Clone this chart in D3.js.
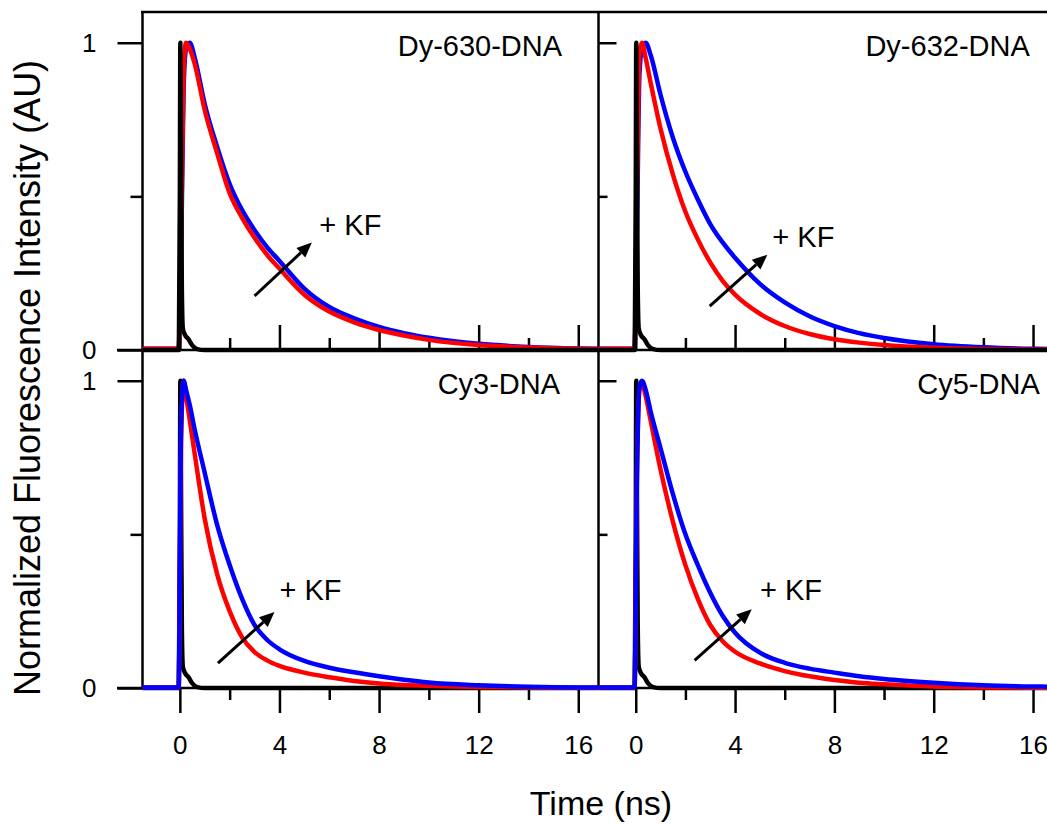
<!DOCTYPE html>
<html>
<head>
<meta charset="utf-8">
<script src="https://cdn.jsdelivr.net/npm/d3@7"></script>
<style>
  body { margin: 0; background: #fff; }
  svg text { font-family: "Liberation Sans", Arial, sans-serif; fill: #000; }
</style>
</head>
<body>
<div id="chart"></div>
<script>
// values (time in ns, intensity normalised)
var time = [-1.5, -0.05, 0.05, 0.15, 0.25, 0.4, 0.6, 1, 1.5, 2, 2.5, 3, 3.5, 4, 5, 6, 7, 8, 9, 10, 12, 14, 16, 16.8];

var dy630Free = [0.004, 0.004, 0.35, 0.9, 1.0, 0.98, 0.93, 0.78, 0.64, 0.51, 0.43, 0.365, 0.31, 0.265, 0.18, 0.125, 0.09, 0.065, 0.047, 0.033, 0.016, 0.008, 0.004, 0.003];
var dy630KF   = [0.004, 0.004, 0.3, 0.85, 0.98, 1.0, 0.95, 0.8, 0.66, 0.54, 0.455, 0.39, 0.335, 0.29, 0.2, 0.14, 0.103, 0.075, 0.055, 0.04, 0.02, 0.01, 0.005, 0.004];
var dy632Free = [0.004, 0.004, 0.5, 0.97, 1.0, 0.95, 0.87, 0.72, 0.57, 0.45, 0.36, 0.285, 0.225, 0.18, 0.118, 0.078, 0.052, 0.035, 0.024, 0.016, 0.007, 0.003, 0.002, 0.001];
var dy632KF   = [0.004, 0.004, 0.4, 0.9, 0.98, 1.0, 0.96, 0.83, 0.69, 0.58, 0.49, 0.41, 0.35, 0.30, 0.215, 0.155, 0.11, 0.078, 0.055, 0.039, 0.019, 0.009, 0.004, 0.003];
var cy3Free   = [0.002, 0.002, 0.8, 1.0, 0.95, 0.87, 0.76, 0.55, 0.37, 0.25, 0.165, 0.117, 0.09, 0.072, 0.05, 0.035, 0.023, 0.015, 0.01, 0.007, 0.003, 0.002, 0.001, 0.001];
var cy3KF     = [0.002, 0.002, 0.85, 1.0, 0.97, 0.92, 0.84, 0.7, 0.53, 0.4, 0.29, 0.205, 0.157, 0.126, 0.088, 0.066, 0.051, 0.038, 0.027, 0.018, 0.009, 0.004, 0.002, 0.002];
var cy5Free   = [0.002, 0.002, 0.7, 0.97, 0.99, 0.95, 0.87, 0.71, 0.54, 0.4, 0.29, 0.205, 0.152, 0.118, 0.08, 0.055, 0.038, 0.026, 0.017, 0.012, 0.005, 0.002, 0.001, 0.001];
var cy5KF     = [0.002, 0.002, 0.7, 0.98, 1.0, 0.97, 0.9, 0.78, 0.63, 0.5, 0.4, 0.31, 0.235, 0.18, 0.115, 0.082, 0.063, 0.05, 0.038, 0.029, 0.017, 0.009, 0.005, 0.004];

// instrument response (black)
var irfTime  = [-1.5, -0.04, 0, 0.02, 0.05, 0.08, 0.12, 0.2, 0.35, 0.5, 0.7, 1, 16.8];
var irfValue = [0, 0, 0.5, 1.0, 0.6, 0.2, 0.07, 0.05, 0.035, 0.015, 0.003, 0, 0];

var panelNames = ["Dy-630-DNA", "Dy-632-DNA", "Cy3-DNA", "Cy5-DNA"];
var freeSeries = [dy630Free, dy632Free, cy3Free, cy5Free];
var kfSeries   = [dy630KF, dy632KF, cy3KF, cy5KF];

var xMajor = [0, 4, 8, 12, 16];
var xMinor = [2, 6, 10, 14];
var yMajor = [0, 1];
var yMinor = [0.5];

var W = 1047, H = 824;

var svg = d3.select("#chart").append("svg")
    .attr("width", W)
    .attr("height", H);

// scales
var xL = d3.scaleLinear().domain([-1.5, 16.8]).range([142.5, 598.2]);
var xR = d3.scaleLinear().domain([-1.5, 16.8]).range([598.5, 1052.9]);
var yT = d3.scaleLinear().domain([0, 1.1]).range([350, 12]);
var yB = d3.scaleLinear().domain([0, 1.1]).range([688, 350]);

var panels = [
    { x: xL, y: yT, top: true,  left: true },
    { x: xR, y: yT, top: true,  left: false },
    { x: xL, y: yB, top: false, left: true },
    { x: xR, y: yB, top: false, left: false }
];

// annotation spots in data units of each panel
var notes = [
    { label: 15.35, arrow: [3.0, 0.176, 5.3, 0.35],  kf: [5.6, 0.375] },
    { label: 15.87, arrow: [2.98, 0.143, 5.3, 0.31], kf: [5.5, 0.335] },
    { label: 15.27, arrow: [1.53, 0.081, 3.8, 0.247], kf: [4.0, 0.286] },
    { label: 16.27, arrow: [2.37, 0.09, 4.67, 0.256], kf: [5.0, 0.286] }
];

function styleAxis(g) {
    g.select(".domain").remove();
    g.selectAll(".tick line").attr("stroke", "#000").attr("stroke-width", 2.5);
    g.selectAll(".tick text").style("font-size", "26px");
}

// frame lines
var frame = svg.append("g").attr("stroke", "#000").attr("stroke-width", 2.5);
frame.append("line").attr("x1", 142.5).attr("x2", 142.5).attr("y1", 11).attr("y2", 689);
frame.append("line").attr("x1", 598.5).attr("x2", 598.5).attr("y1", 11).attr("y2", 689);
frame.append("line").attr("x1", 141).attr("x2", W).attr("y1", 12).attr("y2", 12);
frame.append("line").attr("x1", 117).attr("x2", W).attr("y1", 350).attr("y2", 350);
frame.append("line").attr("x1", 117).attr("x2", W).attr("y1", 688).attr("y2", 688);

panels.forEach(function (p, i) {
    var x = p.x, y = p.y;
    var base = y.range()[0];
    var left = x.range()[0];

    // x ticks
    if (p.top) {
        svg.append("g").attr("transform", "translate(0," + base + ")")
            .call(d3.axisTop(x).tickValues(xMajor).tickSize(25).tickFormat(""))
            .call(styleAxis);
        svg.append("g").attr("transform", "translate(0," + base + ")")
            .call(d3.axisTop(x).tickValues(xMinor).tickSize(12).tickFormat(""))
            .call(styleAxis);
    } else {
        svg.append("g").attr("transform", "translate(0," + base + ")")
            .call(d3.axisBottom(x).tickValues(xMajor).tickSize(25).tickPadding(23).tickFormat(d3.format("d")))
            .call(styleAxis);
        svg.append("g").attr("transform", "translate(0," + base + ")")
            .call(d3.axisBottom(x).tickValues(xMinor).tickSize(12).tickFormat(""))
            .call(styleAxis);
    }

    // y ticks
    if (p.left) {
        svg.append("g").attr("transform", "translate(" + left + ",0)")
            .call(d3.axisLeft(y).tickValues(yMajor).tickSize(25).tickPadding(21).tickFormat(d3.format("d")))
            .call(styleAxis);
        svg.append("g").attr("transform", "translate(" + left + ",0)")
            .call(d3.axisLeft(y).tickValues(yMinor).tickSize(12).tickFormat(""))
            .call(styleAxis);
    } else {
        svg.append("g").attr("transform", "translate(" + left + ",0)")
            .call(d3.axisRight(y).tickValues([1]).tickSize(18).tickFormat(""))
            .call(styleAxis);
        svg.append("g").attr("transform", "translate(" + left + ",0)")
            .call(d3.axisRight(y).tickValues(yMinor).tickSize(9).tickFormat(""))
            .call(styleAxis);
    }

    var line = d3.line()
        .x(function (d) { return x(d[0]); })
        .y(function (d) { return y(d[1]); })
        .curve(d3.curveMonotoneX);

    var irf = d3.zip(irfTime, irfValue);
    var free = d3.zip(time, freeSeries[i]);
    var kf = d3.zip(time, kfSeries[i]);

    var order = p.top
        ? [[kf, "#0000ff"], [free, "#ff0000"], [irf, "#000000"]]
        : [[irf, "#000000"], [free, "#ff0000"], [kf, "#0000ff"]];

    order.forEach(function (s) {
        svg.append("path")
            .datum(s[0])
            .attr("d", line)
            .attr("fill", "none")
            .attr("stroke", s[1])
            .attr("stroke-width", 4.5)
            .attr("stroke-linejoin", "round");
    });

    // panel label
    svg.append("text")
        .attr("x", x(notes[i].label))
        .attr("y", y(0.957))
        .attr("text-anchor", "end")
        .style("font-size", "29px")
        .text(panelNames[i]);

    // arrow
    var a = notes[i].arrow;
    var x1 = x(a[0]), y1 = y(a[1]), x2 = x(a[2]), y2 = y(a[3]);
    var ang = Math.atan2(y2 - y1, x2 - x1);
    var hl = 15, hw = 6.5;
    var bx = x2 - hl * Math.cos(ang), by = y2 - hl * Math.sin(ang);
    svg.append("line")
        .attr("x1", x1).attr("y1", y1)
        .attr("x2", bx).attr("y2", by)
        .attr("stroke", "#000").attr("stroke-width", 3);
    svg.append("path")
        .attr("d", "M" + x2 + "," + y2 +
            "L" + (bx + hw * Math.sin(ang)) + "," + (by - hw * Math.cos(ang)) +
            "L" + (bx - hw * Math.sin(ang)) + "," + (by + hw * Math.cos(ang)) + "Z")
        .attr("fill", "#000");

    svg.append("text")
        .attr("x", x(notes[i].kf[0]))
        .attr("y", y(notes[i].kf[1]))
        .style("font-size", "29px")
        .text("+ KF");
});

// axis titles
svg.append("text")
    .attr("transform", "translate(40,378) rotate(-90)")
    .attr("text-anchor", "middle")
    .style("font-size", "36px")
    .text("Normalized Fluorescence Intensity (AU)");

svg.append("text")
    .attr("x", 601)
    .attr("y", 815)
    .attr("text-anchor", "middle")
    .style("font-size", "34px")
    .text("Time (ns)");
</script>
</body>
</html>
